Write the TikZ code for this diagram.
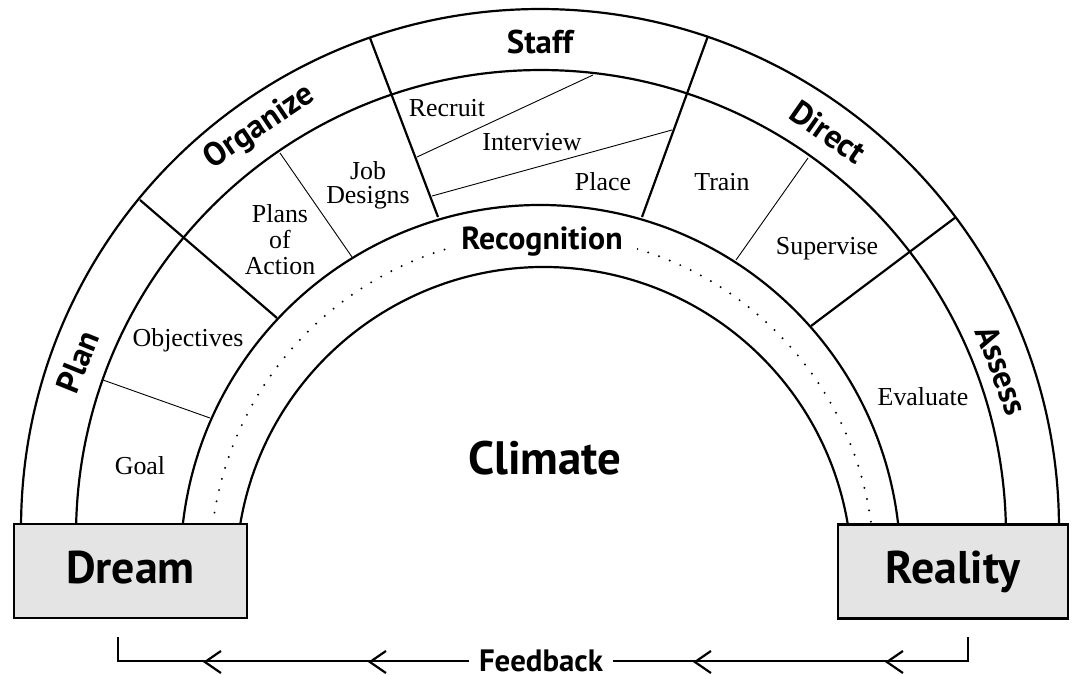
\documentclass[tikz,border=0pt]{standalone}
\usepackage{fontspec}
\setmainfont{Liberation Serif}
\newfontfamily\hsans{PT Sans}
\usetikzlibrary{arrows.meta}
\definecolor{boxgray}{HTML}{E4E4E4}
% arc of a ring circle, cut where it meets the top of the end boxes (y = 524)
\newcommand\ringarc[4]{%
  \draw[#1] (#2,#3) ++({180+asin((#3-524)/#4)}:#4)
    arc[start angle={180+asin((#3-524)/#4)}, end angle={360-asin((#3-524)/#4)}, radius=#4];}
\begin{document}
\begin{tikzpicture}[x=1bp,y=-1bp,
  ring/.style={line width=2.2bp},
  divider/.style={line width=2.2bp},
  thinline/.style={line width=0.9bp},
  dots/.style={line width=2.2bp, line cap=round, dash pattern=on 0bp off 11.5bp},
  stage/.style={font=\hsans\bfseries\fontsize{33}{33}\selectfont, inner sep=0pt},
  task/.style={font=\fontsize{26}{26}\selectfont, inner sep=0pt, align=center},
  endbox/.style={draw, line width=2.2bp, fill=boxgray, minimum height=94bp,
                 text height=33bp, text depth=9bp,
                 font=\hsans\bfseries\fontsize{46}{46}\selectfont},
  fbline/.style={line width=2.2bp},
  barb/.style={line width=2.2bp, -{Straight Barb[length=16bp,width=22bp,line width=2.2bp]}}
]
\useasboundingbox (0,0) rectangle (1073,675);

% the rings of the arch
\ringarc{ring}{540}{528}{519}
\ringarc{ring}{541}{535}{465}
\ringarc{ring}{540.5}{565}{360}
\ringarc{dots}{542}{567}{332}
\ringarc{ring}{544}{575}{308}

% stage dividers (outer edge to the recognition band)
\coordinate (d1a) at (140,200); \coordinate (d1b) at (277,318);
\coordinate (d2a) at (370,38);  \coordinate (d2b) at (438,217);
\coordinate (d3a) at (708,36);  \coordinate (d3b) at (642,217);
\coordinate (d4a) at (956,217); \coordinate (d4b) at (811,326);
\draw[divider] (d1a) -- (d1b);
\draw[divider] (d2a) -- (d2b);
\draw[divider] (d3a) -- (d3b);
\draw[divider] (d4a) -- (d4b);

% task dividers
\coordinate (t1a) at (103,380); \coordinate (t1b) at (210,418);
\coordinate (t2a) at (280,153); \coordinate (t2b) at (352,257);
\coordinate (t3a) at (593,75);  \coordinate (t3b) at (417,157);
\coordinate (t4a) at (672,130); \coordinate (t4b) at (432,196);
\coordinate (t5a) at (808,158); \coordinate (t5b) at (736,260);
\draw[thinline] (t1a) -- (t1b);
\draw[thinline] (t2a) -- (t2b);
\draw[thinline] (t3a) -- (t3b);
\draw[thinline] (t4a) -- (t4b);
\draw[thinline] (t5a) -- (t5b);

% stage names
\node[stage, rotate=68]    (plan)     at (78,362)  {Plan};
\node[stage, rotate=34]    (organize) at (260,127) {Organize};
\node[stage]               (staff)    at (540,42)  {Staff};
\node[stage, rotate=-35]   (direct)   at (828,132) {Direct};
\node[stage, rotate=-69]   (assess)   at (1002,370) {Assess};

% tasks
\node[task] (goal)       at (140,466) {Goal};
\node[task] (objectives) at (188,340) {Objectives};
\node[task, font=\fontsize{26}{26}\selectfont] (plans) at (280,240) {Plans\\of\\Action};
\node[task, font=\fontsize{26}{24}\selectfont] (jobs)  at (368,185) {Job\\Designs};
\node[task] (recruit)    at (447,108) {Recruit};
\node[task] (interview)  at (532,142) {Interview};
\node[task] (place)      at (603,182) {Place};
\node[task] (train)      at (722,182) {Train};
\node[task] (supervise)  at (827,249) {Supervise};
\node[task] (evaluate)   at (923,397) {Evaluate};

% recognition band
\node[stage, font=\hsans\bfseries\fontsize{32}{32}\selectfont, fill=white, inner xsep=14bp, inner ysep=3bp] (recognition) at (542,242) {Recognition};

% centre
\node[font=\hsans\bfseries\fontsize{47}{47}\selectfont] (climate) at (545,458) {Climate};

% end boxes
\node[endbox, minimum width=233bp] (dream)   at (130.5,571) {Dream};
\node[endbox, minimum width=230bp] (reality) at (953,571.5) {Reality};

% feedback loop
\node[font=\hsans\bfseries\fontsize{31}{31}\selectfont, inner xsep=10bp, inner ysep=0bp] (feedback) at (541,661) {Feedback};
\coordinate (fl) at (118,637);
\coordinate (fr) at (968,637);
\draw[fbline] (fr) |- (feedback.east);
\draw[fbline] (feedback.west) -| (fl);
\coordinate (a1) at (203,662); \coordinate (a2) at (368,662);
\coordinate (a3) at (693,662); \coordinate (a4) at (885,662);
\foreach \a in {a1,a2,a3,a4}
  \draw[barb] ([xshift=4bp]\a) -- (\a);
\end{tikzpicture}
\end{document}
